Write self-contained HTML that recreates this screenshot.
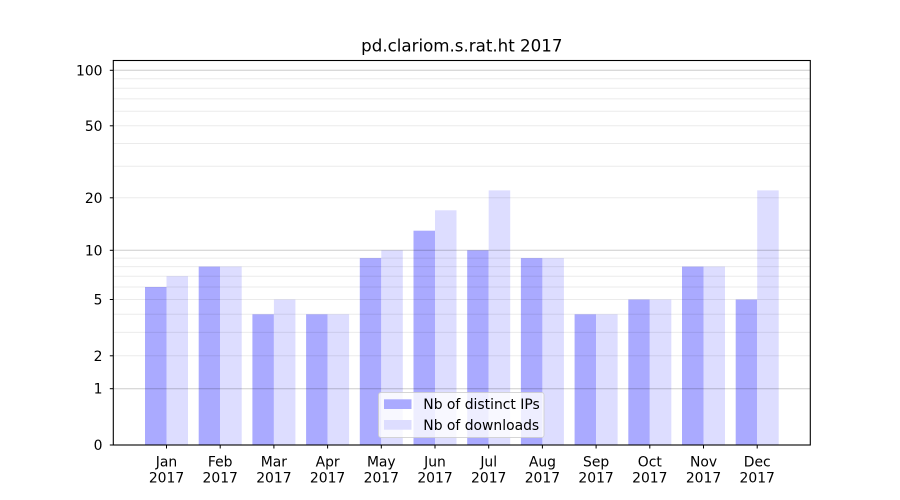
<!DOCTYPE html>
<html><head><meta charset="utf-8"><style>
html,body{margin:0;padding:0;background:#fff;}
svg{display:block;font-family:"DejaVu Sans","Liberation Sans",sans-serif;}
</style></head><body>
<svg width="900" height="500" viewBox="0 0 900 500" xmlns="http://www.w3.org/2000/svg">
<rect width="900" height="500" fill="#fff"/>
<!-- bars -->
<g fill="#aaaaff">
<rect x="145.0" y="287.0" width="21.5" height="158.0"/>
<rect x="198.7" y="266.6" width="21.5" height="178.4"/>
<rect x="252.4" y="314.3" width="21.5" height="130.7"/>
<rect x="306.1" y="314.3" width="21.5" height="130.7"/>
<rect x="359.8" y="258.1" width="21.5" height="186.9"/>
<rect x="413.5" y="230.7" width="21.5" height="214.3"/>
<rect x="467.2" y="250.3" width="21.5" height="194.7"/>
<rect x="520.9" y="258.1" width="21.5" height="186.9"/>
<rect x="574.6" y="314.3" width="21.5" height="130.7"/>
<rect x="628.3" y="299.5" width="21.5" height="145.5"/>
<rect x="682.0" y="266.6" width="21.5" height="178.4"/>
<rect x="735.7" y="299.5" width="21.5" height="145.5"/>
</g>
<g fill="#ddddff">
<rect x="166.5" y="276.2" width="21.5" height="168.8"/>
<rect x="220.2" y="266.6" width="21.5" height="178.4"/>
<rect x="273.9" y="299.5" width="21.5" height="145.5"/>
<rect x="327.6" y="314.3" width="21.5" height="130.7"/>
<rect x="381.3" y="250.3" width="21.5" height="194.7"/>
<rect x="435.0" y="210.3" width="21.5" height="234.7"/>
<rect x="488.7" y="190.4" width="21.5" height="254.6"/>
<rect x="542.4" y="258.1" width="21.5" height="186.9"/>
<rect x="596.1" y="314.3" width="21.5" height="130.7"/>
<rect x="649.8" y="299.5" width="21.5" height="145.5"/>
<rect x="703.5" y="266.6" width="21.5" height="178.4"/>
<rect x="757.2" y="190.4" width="21.5" height="254.6"/>
</g>
<!-- minor grid -->
<g stroke="#000" stroke-opacity="0.08" stroke-width="1">
<line x1="113.3" x2="810.3" y1="355.8" y2="355.8"/>
<line x1="113.3" x2="810.3" y1="332.4" y2="332.4"/>
<line x1="113.3" x2="810.3" y1="314.3" y2="314.3"/>
<line x1="113.3" x2="810.3" y1="299.5" y2="299.5"/>
<line x1="113.3" x2="810.3" y1="287.0" y2="287.0"/>
<line x1="113.3" x2="810.3" y1="276.2" y2="276.2"/>
<line x1="113.3" x2="810.3" y1="266.6" y2="266.6"/>
<line x1="113.3" x2="810.3" y1="258.1" y2="258.1"/>
<line x1="113.3" x2="810.3" y1="197.8" y2="197.8"/>
<line x1="113.3" x2="810.3" y1="166.2" y2="166.2"/>
<line x1="113.3" x2="810.3" y1="143.5" y2="143.5"/>
<line x1="113.3" x2="810.3" y1="125.8" y2="125.8"/>
<line x1="113.3" x2="810.3" y1="111.2" y2="111.2"/>
<line x1="113.3" x2="810.3" y1="98.9" y2="98.9"/>
<line x1="113.3" x2="810.3" y1="88.2" y2="88.2"/>
<line x1="113.3" x2="810.3" y1="78.8" y2="78.8"/>
</g>
<!-- major grid -->
<g stroke="#000" stroke-opacity="0.2" stroke-width="1">
<line x1="113.3" x2="810.3" y1="388.7" y2="388.7"/>
<line x1="113.3" x2="810.3" y1="250.3" y2="250.3"/>
<line x1="113.3" x2="810.3" y1="70.3" y2="70.3"/>
</g>
<!-- legend -->
<rect x="378.5" y="392.5" width="165.5" height="45" rx="2.5" fill="#fff" fill-opacity="0.8" stroke="#cccccc" stroke-opacity="0.8" stroke-width="1"/>
<rect x="384" y="399.3" width="27.5" height="9.7" fill="#aaaaff"/>
<rect x="384" y="420" width="27.5" height="9.7" fill="#ddddff"/>
<g font-size="13.9" fill="#000">
<text x="423.3" y="409">Nb of distinct IPs</text>
<text x="423.3" y="430">Nb of downloads</text>
</g>
<!-- spines -->
<rect x="113.3" y="60.5" width="697" height="384.5" fill="none" stroke="#000" stroke-width="1.1"/>
<!-- y ticks -->
<g stroke="#000" stroke-width="1">
<line x1="109.8" x2="113.3" y1="445" y2="445"/>
<line x1="109.8" x2="113.3" y1="388.7" y2="388.7"/>
<line x1="109.8" x2="113.3" y1="355.8" y2="355.8"/>
<line x1="109.8" x2="113.3" y1="299.5" y2="299.5"/>
<line x1="109.8" x2="113.3" y1="250.3" y2="250.3"/>
<line x1="109.8" x2="113.3" y1="197.8" y2="197.8"/>
<line x1="109.8" x2="113.3" y1="125.8" y2="125.8"/>
<line x1="109.8" x2="113.3" y1="70.3" y2="70.3"/>
</g>
<g font-size="13.9" fill="#000" text-anchor="end">
<text x="102.5" y="450">0</text>
<text x="102.5" y="393.7">1</text>
<text x="102.5" y="360.8">2</text>
<text x="102.5" y="304.5">5</text>
<text x="102.5" y="255.3">10</text>
<text x="102.5" y="202.8">20</text>
<text x="102.5" y="130.8">50</text>
<text x="102.5" y="75.3">100</text>
</g>
<!-- x ticks -->
<g stroke="#000" stroke-width="1">
<line x1="166.5" x2="166.5" y1="445" y2="448.5"/>
<line x1="220.2" x2="220.2" y1="445" y2="448.5"/>
<line x1="273.9" x2="273.9" y1="445" y2="448.5"/>
<line x1="327.6" x2="327.6" y1="445" y2="448.5"/>
<line x1="381.3" x2="381.3" y1="445" y2="448.5"/>
<line x1="435.0" x2="435.0" y1="445" y2="448.5"/>
<line x1="488.7" x2="488.7" y1="445" y2="448.5"/>
<line x1="542.4" x2="542.4" y1="445" y2="448.5"/>
<line x1="596.1" x2="596.1" y1="445" y2="448.5"/>
<line x1="649.8" x2="649.8" y1="445" y2="448.5"/>
<line x1="703.5" x2="703.5" y1="445" y2="448.5"/>
<line x1="757.2" x2="757.2" y1="445" y2="448.5"/>
</g>
<g font-size="13.9" fill="#000" text-anchor="middle">
<text x="166.5" y="466.5">Jan</text><text x="166.5" y="482.5">2017</text>
<text x="220.2" y="466.5">Feb</text><text x="220.2" y="482.5">2017</text>
<text x="273.9" y="466.5">Mar</text><text x="273.9" y="482.5">2017</text>
<text x="327.6" y="466.5">Apr</text><text x="327.6" y="482.5">2017</text>
<text x="381.3" y="466.5">May</text><text x="381.3" y="482.5">2017</text>
<text x="435.0" y="466.5">Jun</text><text x="435.0" y="482.5">2017</text>
<text x="488.7" y="466.5">Jul</text><text x="488.7" y="482.5">2017</text>
<text x="542.4" y="466.5">Aug</text><text x="542.4" y="482.5">2017</text>
<text x="596.1" y="466.5">Sep</text><text x="596.1" y="482.5">2017</text>
<text x="649.8" y="466.5">Oct</text><text x="649.8" y="482.5">2017</text>
<text x="703.5" y="466.5">Nov</text><text x="703.5" y="482.5">2017</text>
<text x="757.2" y="466.5">Dec</text><text x="757.2" y="482.5">2017</text>
</g>
<!-- title -->
<text x="461.8" y="51.5" font-size="16.67" text-anchor="middle" fill="#000">pd.clariom.s.rat.ht 2017</text>
</svg>
</body></html>
